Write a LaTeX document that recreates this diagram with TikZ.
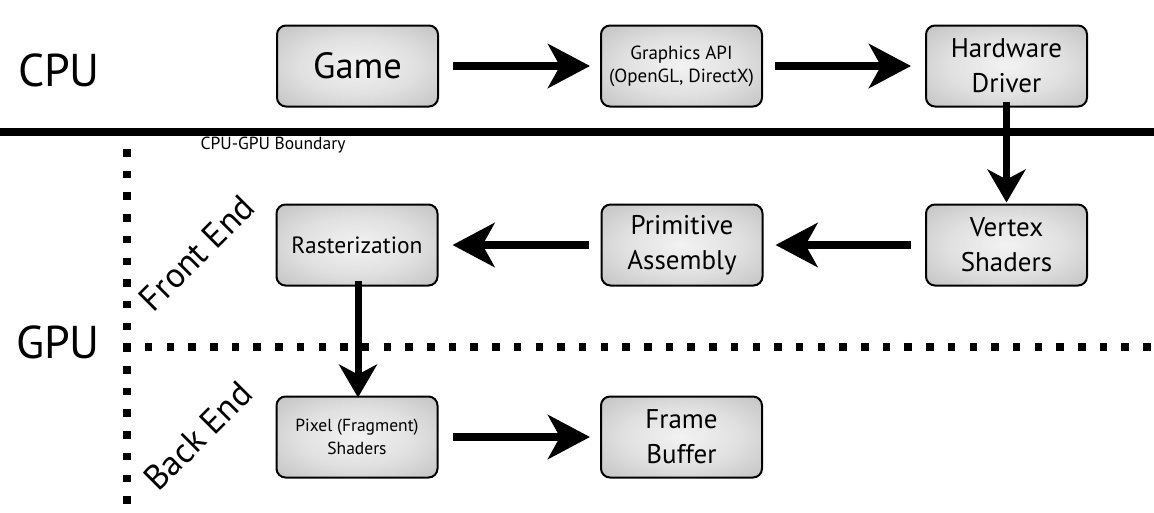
\documentclass[tikz,border=0pt]{standalone}
\usepackage{fontspec}
\setmainfont{PT Sans}
\usetikzlibrary{arrows.meta}
\pgfdeclareradialshading{boxshade}{\pgfpoint{0bp}{0bp}}{color(0bp)=(white!95!black); color(18bp)=(white!88!black); color(50bp)=(black!33); color(72bp)=(black!42)}
\tikzset{
  stage/.style={draw=black, line width=2pt, rounded corners=9pt,
    minimum width=161pt, minimum height=81pt, inner sep=0pt,
    shading=boxshade, align=center},
  flow/.style={line width=8pt, -{Stealth[length=42pt,width=44pt,inset=12pt]}},
  vflow/.style={line width=7pt, -{Stealth[length=33pt,width=38pt,inset=10pt]}},
  dotline/.style={line width=7.5pt, dash pattern=on 7.5pt off 14.2pt},
  big/.style={font=\fontsize{46}{46}\selectfont},
  side/.style={font=\fontsize{35}{35}\selectfont, rotate=45, inner sep=0pt}
}
\begin{document}
\begin{tikzpicture}[x=1pt,y=-1pt]
\useasboundingbox (0,0) rectangle (1154,512);
% boundaries
\coordinate (sl) at (0,132);
\coordinate (sr) at (1154,132);
\draw[line width=8pt] (sl) -- (sr);
\coordinate (vt) at (127,149);
\coordinate (vb) at (127,510);
\draw[dotline] (vt) -- (vb);
\coordinate (hl) at (123.25,347);
\coordinate (hr) at (1154,347);
\draw[dotline] (hl) -- (hr);
% labels
\node[big] (cpu) at (59,70) {CPU};
\node[big] (gpu) at (58,342) {GPU};
\node[font=\fontsize{17.5}{17.5}\selectfont] (bnd) at (273,145) {CPU-GPU Boundary};
\node[side] (fe) at (197,253) {Front End};
\node[side] (be) at (198,436) {Back End};
% stages
\node[stage, font=\fontsize{36.5}{36.5}\selectfont] (game) at (357.5,66) {Game};
\node[stage, font=\fontsize{19}{23}\selectfont] (api) at (681.5,66) {Graphics API\\(OpenGL, DirectX)};
\node[stage, font=\fontsize{27}{35}\selectfont] (hw) at (1006.5,66) {Hardware\\Driver};
\node[stage, font=\fontsize{27}{35}\selectfont] (vs) at (1006.5,245) {Vertex\\Shaders};
\node[stage, font=\fontsize{27}{35}\selectfont] (pa) at (682,245) {Primitive\\Assembly};
\node[stage, font=\fontsize{23.5}{28}\selectfont] (ra) at (357,245) {Rasterization};
\node[stage, font=\fontsize{17.5}{23}\selectfont] (ps) at (357,437) {Pixel (Fragment)\\Shaders};
\node[stage, font=\fontsize{27}{35}\selectfont] (fb) at (681.5,437) {Frame\\Buffer};
% connectors
\draw[flow, shorten <=14pt, shorten >=10pt] (game) -- (api);
\draw[flow, shorten <=12pt, shorten >=14pt] (api) -- (hw);
\draw[vflow, shorten <=-6pt, shorten >=1pt] (hw.south) -- (vs.north);
\draw[flow, shorten <=14pt, shorten >=12pt] (vs) -- (pa);
\draw[flow, shorten <=12pt, shorten >=14pt] (pa) -- (ra);
\draw[vflow, shorten <=-6pt, shorten >=-2pt] (ra.south -| 358,0) -- (ps.north -| 358,0);
\draw[flow, shorten <=14pt, shorten >=10pt] (ps) -- (fb);
\end{tikzpicture}
\end{document}
